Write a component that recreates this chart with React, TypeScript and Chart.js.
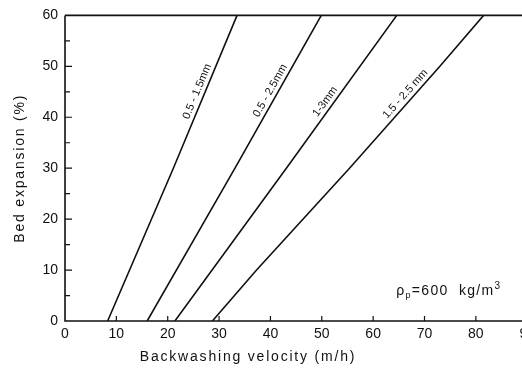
import React, { useEffect, useRef } from "react";
import { Chart, registerables } from "chart.js";

Chart.register(...registerables);

// ---- data ----
const sizeRanges = ["0.5 - 1.5mm", "0.5 - 2.5mm", "1-3mm", "1.5 - 2.5 mm"];
const velocity1 = [8.3, 21.1, 33.5];
const expansion1 = [0, 30, 60];
const velocity2 = [16.0, 33.1, 49.9];
const expansion2 = [0, 30, 60];
const velocity3 = [21.4, 43.1, 64.6];
const expansion3 = [0, 30, 60];
const velocity4 = [28.7, 37.3, 55.4, 73.0, 81.5];
const expansion4 = [0, 10, 30, 50, 60];
const labelExpansion = [44.5, 44.5, 42.2, 43.6];
const xTickValues = [0, 10, 20, 30, 40, 50, 60, 70, 80, 90];
const yMinorStep = 5;
const xTitle = "Backwashing velocity (m/h)";
const yTitle = "Bed expansion (%)";

const velocities = [velocity1, velocity2, velocity3, velocity4];
const expansions = [expansion1, expansion2, expansion3, expansion4];

const FONT = "'Liberation Sans', Arial, sans-serif";
const INK = "#111";

const overlay = {
  id: "overlay",
  afterDraw(chart: any) {
    const { ctx, chartArea: a, scales } = chart;
    const xs = scales.x;
    const ys = scales.y;
    ctx.save();
    // axes frame
    ctx.strokeStyle = INK;
    ctx.lineWidth = 1.6;
    ctx.beginPath();
    ctx.moveTo(a.left, a.top);
    ctx.lineTo(a.left, a.bottom);
    ctx.lineTo(a.right, a.bottom);
    ctx.moveTo(a.left, a.top);
    ctx.lineTo(a.right, a.top);
    ctx.stroke();
    // inward ticks
    ctx.lineWidth = 1.2;
    ctx.beginPath();
    xTickValues.forEach((v) => {
      if (v <= xs.min) return;
      const px = xs.getPixelForValue(v);
      ctx.moveTo(px, a.bottom);
      ctx.lineTo(px, a.bottom - 5);
    });
    for (let v = yMinorStep; v < ys.max; v += yMinorStep) {
      const py = ys.getPixelForValue(v);
      const len = v % 10 === 0 ? 7 : 5;
      ctx.moveTo(a.left, py);
      ctx.lineTo(a.left + len, py);
    }
    ctx.stroke();

    // line labels along each curve
    ctx.fillStyle = INK;
    ctx.font = `11px ${FONT}`;
    (ctx as any).letterSpacing = "0px";
    sizeRanges.forEach((label, i) => {
      const vel = velocities[i];
      const exp = expansions[i];
      const L = labelExpansion[i];
      let j = 0;
      while (j < exp.length - 2 && exp[j + 1] < L) j++;
      const t = (L - exp[j]) / (exp[j + 1] - exp[j]);
      const vx = vel[j] + t * (vel[j + 1] - vel[j]);
      const px = xs.getPixelForValue(vx);
      const py = ys.getPixelForValue(L);
      const x0 = xs.getPixelForValue(vel[j]);
      const y0 = ys.getPixelForValue(exp[j]);
      const x1 = xs.getPixelForValue(vel[j + 1]);
      const y1 = ys.getPixelForValue(exp[j + 1]);
      const ang = Math.atan2(y1 - y0, x1 - x0);
      ctx.save();
      ctx.translate(px, py);
      ctx.rotate(ang);
      ctx.textAlign = "center";
      ctx.textBaseline = "bottom";
      ctx.fillText(label, 0, -2);
      ctx.restore();
    });

    // density annotation
    const ax = xs.getPixelForValue(64.5);
    const ay = ys.getPixelForValue(5.2);
    ctx.textAlign = "left";
    ctx.textBaseline = "alphabetic";
    (ctx as any).letterSpacing = "1.3px";
    let cx = ax;
    ctx.font = `14px ${FONT}`;
    ctx.fillText("ρ", cx, ay);
    cx += ctx.measureText("ρ").width;
    ctx.font = `9px ${FONT}`;
    ctx.fillText("p", cx, ay + 3);
    cx += ctx.measureText("p").width;
    ctx.font = `14px ${FONT}`;
    ctx.fillText("=600  kg/m", cx, ay);
    cx += ctx.measureText("=600  kg/m").width;
    ctx.font = `10px ${FONT}`;
    ctx.fillText("3", cx, ay - 6);

    // axis titles
    ctx.font = `14px ${FONT}`;
    (ctx as any).letterSpacing = "1.8px";
    ctx.textAlign = "center";
    ctx.textBaseline = "middle";
    ctx.fillText(xTitle, a.left + 183, a.bottom + 36);
    ctx.save();
    ctx.translate(20, (a.top + a.bottom) / 2);
    ctx.rotate(-Math.PI / 2);
    ctx.fillText(yTitle, 0, 0);
    ctx.restore();
    ctx.restore();
  },
};

export default function App() {
  const ref = useRef<HTMLCanvasElement>(null);
  useEffect(() => {
    if (!ref.current) return;
    const datasets = sizeRanges.map((label, i) => ({
      label,
      data: velocities[i].map((v, k) => ({ x: v, y: expansions[i][k] })),
      borderColor: INK,
      borderWidth: 1.6,
      pointRadius: 0,
      fill: false,
      tension: 0,
    }));
    const chart = new Chart(ref.current, {
      type: "line",
      data: { datasets },
      options: {
        responsive: false,
        animation: false,
        layout: { padding: { left: 8, top: 10, right: 12, bottom: 0 } },
        plugins: { legend: { display: false }, tooltip: { enabled: false } },
        scales: {
          x: {
            type: "linear",
            min: 0,
            max: 90,
            grid: { display: false, drawTicks: false },
            border: { display: false },
            afterFit: (s: any) => {
              s.height = 50;
            },
            afterBuildTicks: (s: any) => {
              s.ticks = xTickValues.map((v) => ({ value: v }));
            },
            ticks: {
              padding: 5,
              color: INK,
              font: { family: FONT, size: 14 },
              maxRotation: 0,
              autoSkip: false,
            },
          },
          y: {
            type: "linear",
            min: 0,
            max: 60,
            grid: { display: false, drawTicks: false },
            border: { display: false },
            afterFit: (s: any) => {
              s.width = 57;
            },
            ticks: {
              stepSize: 10,
              padding: 7,
              color: INK,
              font: { family: FONT, size: 14 },
            },
          },
        },
      },
      plugins: [overlay],
    });
    return () => chart.destroy();
  }, []);
  return (
    <div
      style={{
        position: "fixed",
        left: 0,
        top: 0,
        width: 522,
        height: 371,
        overflow: "hidden",
        background: "#fff",
      }}
    >
      <canvas ref={ref} width={540} height={371} style={{ display: "block" }} />
    </div>
  );
}
